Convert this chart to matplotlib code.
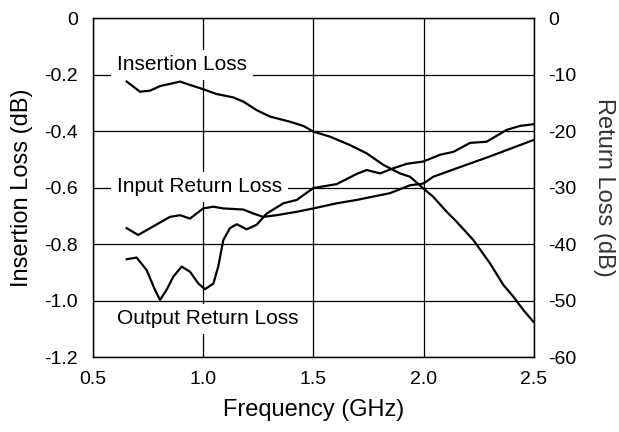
import matplotlib
matplotlib.use("Agg")
import matplotlib.pyplot as plt

plt.rcParams['font.family'] = ['Liberation Sans', 'DejaVu Sans']

# Insertion loss (left axis, dB)
il_freq = [0.653, 0.713, 0.759, 0.804, 0.895, 0.940, 1.0, 1.06, 1.136, 1.182, 1.242, 1.303,
           1.393, 1.454, 1.499, 1.575, 1.666, 1.741, 1.817, 1.892, 1.938, 1.998, 2.043,
           2.104, 2.149, 2.225, 2.300, 2.361, 2.406, 2.452, 2.497]
il_db = [-0.225, -0.261, -0.257, -0.241, -0.225, -0.237, -0.252, -0.269, -0.281, -0.296,
         -0.326, -0.349, -0.367, -0.382, -0.402, -0.420, -0.450, -0.479, -0.520, -0.550,
         -0.562, -0.603, -0.633, -0.686, -0.721, -0.786, -0.868, -0.945, -0.986, -1.034,
         -1.075]

# Input return loss (right axis, dB)
irl_freq = [0.653, 0.705, 0.759, 0.849, 0.895, 0.940, 1.0, 1.046, 1.091, 1.182, 1.227,
            1.272, 1.333, 1.424, 1.499, 1.605, 1.696, 1.771, 1.847, 1.938, 1.998, 2.043,
            2.149, 2.300, 2.497]
irl_db = [-37.2, -38.4, -37.2, -35.2, -34.9, -35.5, -33.7, -33.4, -33.7, -33.9, -34.6,
          -35.2, -34.9, -34.3, -33.7, -32.8, -32.2, -31.6, -31.0, -29.6, -29.3, -28.1,
          -26.6, -24.5, -21.6]

# Output return loss (right axis, dB)
orl_freq = [0.653, 0.698, 0.743, 0.781, 0.804, 0.834, 0.864, 0.902, 0.940, 0.978, 1.008,
            1.046, 1.068, 1.091, 1.121, 1.152, 1.197, 1.242, 1.288, 1.363, 1.424, 1.499,
            1.605, 1.696, 1.741, 1.802, 1.862, 1.923, 1.998, 2.074, 2.134, 2.210, 2.285,
            2.376, 2.436, 2.497]
orl_db = [-42.7, -42.4, -44.6, -48.1, -49.9, -48.1, -45.8, -44.0, -44.9, -47.0, -48.0,
          -47.0, -44.0, -39.3, -37.2, -36.5, -37.4, -36.6, -34.6, -32.8, -32.2, -30.1,
          -29.4, -27.6, -26.9, -27.5, -26.6, -25.8, -25.4, -24.2, -23.7, -22.1, -21.9,
          -19.8, -19.1, -18.8]

x_ticks = [0.5, 1.0, 1.5, 2.0, 2.5]
x_ticklabels = ["0.5", "1.0", "1.5", "2.0", "2.5"]
left_ticks = [0, -0.2, -0.4, -0.6, -0.8, -1.0, -1.2]
left_ticklabels = ["0", "-0.2", "-0.4", "-0.6", "-0.8", "-1.0", "-1.2"]
right_ticks = [0, -10, -20, -30, -40, -50, -60]
right_ticklabels = ["0", "-10", "-20", "-30", "-40", "-50", "-60"]

fig = plt.figure(figsize=(6.19, 4.32), dpi=100)
ax = fig.add_axes([0.1502, 0.1736, 0.7125, 0.7847])
ax2 = ax.twinx()

ax.set_xlim(0.5, 2.5)
ax.set_ylim(-1.2, 0)
ax2.set_ylim(-60, 0)

ax.set_xticks(x_ticks)
ax.set_xticklabels(x_ticklabels)
ax.set_yticks(left_ticks)
ax.set_yticklabels(left_ticklabels)
ax2.set_yticks(right_ticks)
ax2.set_yticklabels(right_ticklabels)

ax.tick_params(axis='both', length=0, labelsize=14)
ax.tick_params(axis='y', pad=11)
ax.tick_params(axis='x', pad=10)
ax2.tick_params(axis='y', length=0, labelsize=14, pad=10)

ax.set_axisbelow(True)
ax.grid(True, color='black', linewidth=0.9)
for sp in list(ax.spines.values()) + list(ax2.spines.values()):
    sp.set_color('black')
    sp.set_linewidth(0.9)

ax.plot(il_freq, il_db, color='black', linewidth=1.6, zorder=4)
ax2.plot(irl_freq, irl_db, color='black', linewidth=1.6)
ax2.plot(orl_freq, orl_db, color='black', linewidth=1.6)

box = dict(facecolor='white', edgecolor='none', pad=4)
ax.text(0.609, -0.165, "Insertion Loss", fontsize=15, ha='left', va='center', bbox=box, zorder=3)
ax.text(0.609, -0.598, "Input Return Loss", fontsize=15, ha='left', va='center', bbox=box, zorder=3)
ax.text(0.609, -1.065, "Output Return Loss", fontsize=15, ha='left', va='center', bbox=box, zorder=3)

ax.set_xlabel("Frequency (GHz)", fontsize=17, labelpad=8)
ax.set_ylabel("Insertion Loss (dB)", fontsize=17, labelpad=8)
ax2.set_ylabel("Return Loss (dB)", fontsize=17, rotation=-90, labelpad=28, color='#333333')

fig.savefig("out.png", dpi=100)
